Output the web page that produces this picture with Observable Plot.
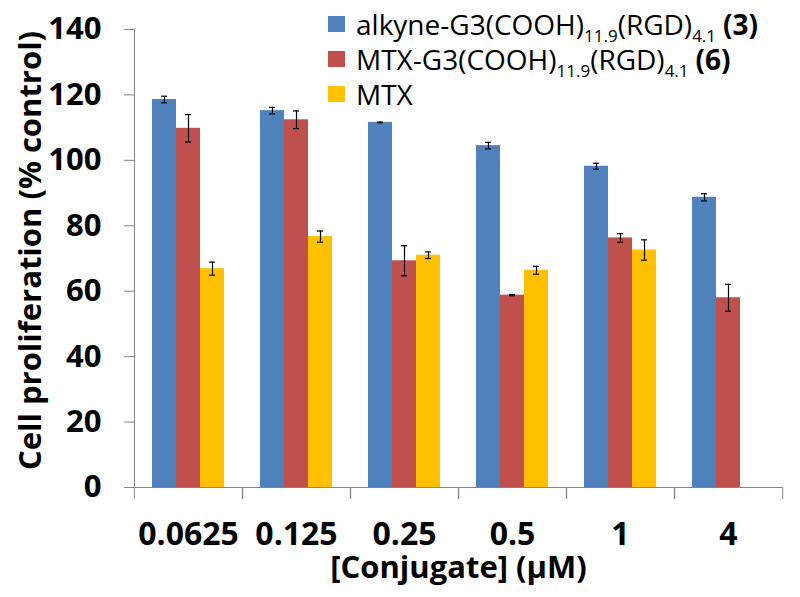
<!DOCTYPE html>
<html>
<head>
<meta charset="utf-8">
<script src="https://cdn.jsdelivr.net/npm/d3@7"></script>
<script src="https://cdn.jsdelivr.net/npm/@observablehq/plot@0.6"></script>
<style>
  html, body { margin: 0; padding: 0; background: white; }
  #wrap { position: relative; width: 800px; height: 597px; }
  #legend { position: absolute; left: 328px; top: 6px; font-family: "Open Sans", sans-serif; font-size: 28px; color: black; }
  .item { display: flex; align-items: center; height: 35px; white-space: nowrap; }
  .item .txt { line-height: 1; }
  .sw { width: 17px; height: 16px; margin-right: 11px; flex: none; }
  .item sub { font-size: 17px; vertical-align: -7px; line-height: 0; }
  .item b { margin-left: 7px; }
</style>
</head>
<body>
<div id="wrap"><div id="legend"></div></div>
<script>
// ---- data ----
const categories = ["0.0625", "0.125", "0.25", "0.5", "1", "4"];
const seriesNames = ["alkyne-G3(COOH)11.9(RGD)4.1 (3)", "MTX-G3(COOH)11.9(RGD)4.1 (6)", "MTX"];
const alkyne = [118.6, 115.2, 111.6, 104.5, 98.2, 88.7];
const alkyneErr = [1.0, 1.0, 0.1, 1.0, 0.9, 1.1];
const mtxConj = [109.8, 112.4, 69.3, 58.8, 76.3, 58.0];
const mtxConjErr = [4.2, 2.7, 4.6, 0.2, 1.3, 4.1];
const mtx = [66.9, 76.7, 71.0, 66.4, 72.6, null];
const mtxErr = [2.0, 1.7, 1.0, 1.2, 3.1, null];
const yTicks = [0, 20, 40, 60, 80, 100, 120, 140];
const colors = ["#4F81BD", "#C0504D", "#FFC000"];
const yLabel = "Cell proliferation (% control)";
const xLabel = "[Conjugate] (µM)";

const values = [alkyne, mtxConj, mtx];
const errs = [alkyneErr, mtxConjErr, mtxErr];
const rows = [];
seriesNames.forEach((s, si) => {
  categories.forEach((c, ci) => {
    const v = values[si][ci];
    if (v != null) rows.push({cat: c, series: s, value: v, err: errs[si][ci]});
  });
});

const W = 800, H = 597, mL = 133, mR = 17, mT = 29, mB = 110;
const cw = (W - mL - mR) / categories.length;
const gray = "#868686";

const chart = Plot.plot({
  width: W, height: H,
  marginLeft: mL, marginRight: mR, marginTop: mT, marginBottom: mB,
  style: {fontFamily: "'Open Sans', sans-serif", fontWeight: "bold", color: "black", background: "white", overflow: "visible"},
  fx: {domain: categories, padding: 0, axis: null},
  x: {domain: seriesNames, paddingInner: 0, paddingOuter: 0.75, axis: null},
  y: {domain: [0, 140], axis: null},
  color: {domain: seriesNames, range: colors},
  marks: [
    Plot.barY(rows, {fx: "cat", x: "series", y: "value", fill: "series"}),
    Plot.ruleX(rows, {fx: "cat", x: "series", y1: d => d.value - d.err, y2: d => d.value + d.err, stroke: "black", strokeWidth: 1.2}),
    Plot.tickY(rows, {fx: "cat", x: "series", y: d => d.value - d.err, stroke: "black", strokeWidth: 1.2, inset: 9}),
    Plot.tickY(rows, {fx: "cat", x: "series", y: d => d.value + d.err, stroke: "black", strokeWidth: 1.2, inset: 9}),
    Plot.ruleY([0], {stroke: gray}),
    Plot.frame({anchor: "left", facetAnchor: "left", stroke: gray}),
    Plot.axisY({ticks: yTicks, tickSize: 10, tickPadding: 23, stroke: gray, fontSize: 31, fontWeight: "bold", label: null}),
    Plot.text([yLabel], {frameAnchor: "left", facetAnchor: "left", rotate: -90, dx: -103, dy: -8,
      fontSize: 31, fontWeight: "bold", textAnchor: "middle", lineAnchor: "middle", fill: "black"}),
    Plot.axisFx({anchor: "bottom", tickSize: 0, tickPadding: 35, fontSize: 32, fontWeight: "bold", label: null}),
    Plot.axisFx({anchor: "bottom", tickSize: 12, tickFormat: () => "", label: null, stroke: gray, dx: -cw / 2}),
    Plot.axisFx({anchor: "bottom", tickSize: 12, tickFormat: () => "", label: null, stroke: gray, dx: cw / 2}),
    Plot.text([xLabel], {frameAnchor: "bottom", facet: "super", dy: 81, fontSize: 31, fontWeight: "bold",
      textAnchor: "middle", lineAnchor: "middle", fill: "black"})
  ]
});
document.getElementById("wrap").prepend(chart);

// legend
const legendHTML = [
  'alkyne-G3(COOH)<sub>11.9</sub>(RGD)<sub>4.1</sub><b>(3)</b>',
  'MTX-G3(COOH)<sub>11.9</sub>(RGD)<sub>4.1</sub><b>(6)</b>',
  'MTX'
];
const legend = document.getElementById("legend");
seriesNames.forEach((s, i) => {
  const item = document.createElement("div");
  item.className = "item";
  const sw = document.createElement("span");
  sw.className = "sw";
  sw.style.background = colors[i];
  const t = document.createElement("span");
  t.className = "txt";
  t.innerHTML = legendHTML[i];
  item.append(sw, t);
  legend.append(item);
});
</script>
</body>
</html>
